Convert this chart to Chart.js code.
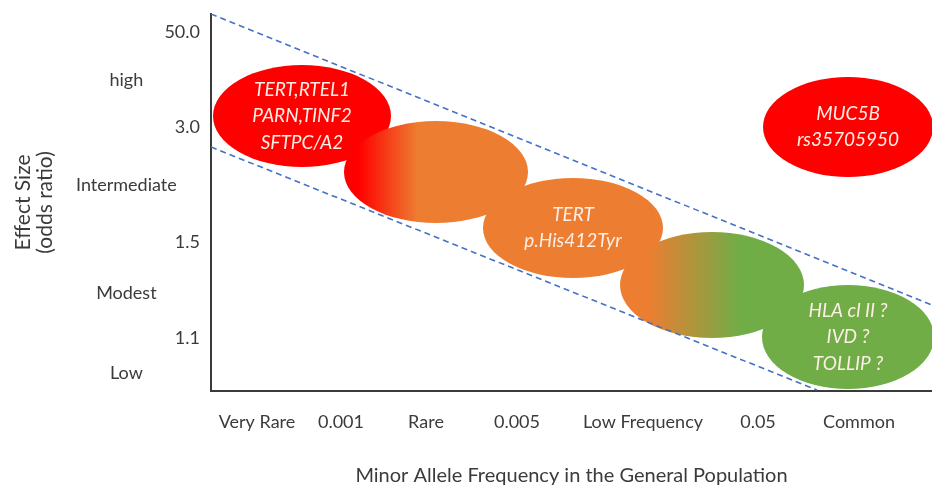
<!DOCTYPE html>
<html>
<head>
<meta charset="utf-8">
<script src="https://cdn.jsdelivr.net/npm/chart.js@4"></script>
<style>
html,body{margin:0;padding:0;background:#fff;}
#wrap{width:932px;height:488px;position:relative;}
</style>
</head>
<body>
<div id="wrap"><canvas id="c" width="932" height="488"></canvas></div>
<script>
// ---- data ----
const xTickPos = [46, 130, 215, 306, 432, 547, 648];
const xTickLabels = ['Very Rare', '0.001', 'Rare', '0.005', 'Low Frequency', '0.05', 'Common'];
const yNumPos = [359, 264, 149, 53];
const yNumLabels = ['50.0', '3.0', '1.5', '1.1'];
const yCatPos = [311, 206, 98, 18];
const yCatLabels = ['high', 'Intermediate', 'Modest', 'Low'];

const groupX = [91, 225, 362, 501, 637, 637];
const groupY = [275, 219, 163, 106, 54, 264];
const groupSpreadX = [89, 92, 90, 92, 86, 85];
const groupSpreadY = [51, 51, 50, 53, 52, 50];
const groupLabels = [
  ['TERT,RTEL1', 'PARN,TINF2', 'SFTPC/A2'],
  [],
  ['TERT', 'p.His412Tyr'],
  [],
  ['HLA cl II ?', 'IVD ?', 'TOLLIP ?'],
  ['MUC5B', 'rs35705950']
];
const upperBound = [{x: 0, y: 377}, {x: 721, y: 86}];
const lowerBound = [{x: 0, y: 244}, {x: 606, y: 1}];

// ---- styles ----
const RED = '#ff0000', ORANGE = '#ed7d31', GREEN = '#70ad47';
const groupFills = [
  [[0, RED], [1, RED]],
  [[0, RED], [0.08, RED], [0.4, ORANGE], [1, ORANGE]],
  [[0, ORANGE], [1, ORANGE]],
  [[0, ORANGE], [0.15, ORANGE], [0.65, GREEN], [1, GREEN]],
  [[0, GREEN], [1, GREEN]],
  [[0, RED], [1, RED]]
];
const TXT = '#3b3b3b';
const FONT = 'Lato';

const ellipsePlugin = {
  id: 'ellipses',
  beforeDatasetsDraw(chart) {
    const ctx = chart.ctx;
    const xs = chart.scales.x, ys = chart.scales.y;
    const meta = chart.getDatasetMeta(0);
    meta.data.forEach((pt, i) => {
      const cx = pt.x, cy = pt.y;
      const rx = Math.abs(xs.getPixelForValue(groupX[i] + groupSpreadX[i]) - cx);
      const ry = Math.abs(ys.getPixelForValue(groupY[i] + groupSpreadY[i]) - cy);
      const g = ctx.createLinearGradient(cx - rx, 0, cx + rx, 0);
      groupFills[i].forEach(s => g.addColorStop(s[0], s[1]));
      ctx.save();
      ctx.beginPath();
      ctx.ellipse(cx, cy, rx, ry, 0, 0, Math.PI * 2);
      ctx.fillStyle = g;
      ctx.fill();
      ctx.restore();
    });
    meta.data.forEach((pt, i) => {
      const lines = groupLabels[i];
      if (!lines.length) return;
      ctx.save();
      ctx.font = 'italic 19px ' + FONT;
      ctx.fillStyle = '#fdeee6';
      ctx.textAlign = 'center';
      ctx.textBaseline = 'middle';
      const lh = 26.5;
      const y0 = pt.y - lh * (lines.length - 1) / 2;
      lines.forEach((t, k) => ctx.fillText(t, pt.x, y0 + k * lh));
      ctx.restore();
    });
  }
};

const noPad = s => { s.paddingTop = 0; s.paddingBottom = 0; s.paddingLeft = 0; s.paddingRight = 0; };

new Chart(document.getElementById('c'), {
  type: 'scatter',
  data: {
    datasets: [
      {
        label: 'groups',
        data: groupX.map((v, i) => ({x: v, y: groupY[i]})),
        pointRadius: 0,
        pointHoverRadius: 0
      },
      {
        type: 'line',
        label: 'upper',
        data: upperBound,
        borderColor: '#4472c4',
        borderWidth: 1.6,
        borderDash: [6, 4],
        pointRadius: 0,
        fill: false
      },
      {
        type: 'line',
        label: 'lower',
        data: lowerBound,
        borderColor: '#4472c4',
        borderWidth: 1.6,
        borderDash: [6, 4],
        pointRadius: 0,
        fill: false
      }
    ]
  },
  options: {
    responsive: false,
    animation: false,
    devicePixelRatio: 1,
    layout: {padding: {top: 14, right: 0, bottom: 0, left: 0}},
    plugins: {legend: {display: false}, tooltip: {enabled: false}},
    scales: {
      x: {
        type: 'linear', min: 0, max: 721, position: 'bottom',
        grid: {display: false, drawTicks: false},
        border: {display: true, color: '#3a3a3a', width: 2},
        afterBuildTicks: s => { s.ticks = xTickPos.map(v => ({value: v})); },
        afterFit: s => { s.height = 97; noPad(s); },
        ticks: {
          autoSkip: false, maxRotation: 0, padding: 20, color: TXT,
          font: {family: FONT, size: 18},
          callback: (v, i) => xTickLabels[i]
        },
        title: {
          display: true, text: 'Minor Allele Frequency in the General Population',
          color: TXT, font: {family: FONT, size: 20}, padding: {top: 0, bottom: 0}
        }
      },
      y: {
        type: 'linear', min: 0, max: 377, position: 'left', weight: 0,
        grid: {display: false, drawTicks: false},
        border: {display: true, color: '#3a3a3a', width: 2},
        afterBuildTicks: s => { s.ticks = yNumPos.map(v => ({value: v})); },
        afterFit: s => { s.width = 52; noPad(s); },
        ticks: {
          autoSkip: false, padding: 11, color: TXT,
          font: {family: FONT, size: 18},
          callback: (v, i) => yNumLabels[i]
        }
      },
      y2: {
        type: 'linear', min: 0, max: 377, position: 'left', weight: 1,
        grid: {display: false, drawTicks: false},
        border: {display: false},
        afterBuildTicks: s => { s.ticks = yCatPos.map(v => ({value: v})); },
        afterFit: s => { s.width = 159; noPad(s); },
        ticks: {
          autoSkip: false, mirror: true, padding: -83, crossAlign: 'center', color: TXT,
          font: {family: FONT, size: 18},
          callback: (v, i) => yCatLabels[i]
        },
        title: {
          display: true, text: ['Effect Size', '(odds ratio)'],
          color: TXT, font: {family: FONT, size: 21, lineHeight: 1.05}, padding: {top: 12, bottom: 0}
        }
      }
    }
  },
  plugins: [ellipsePlugin]
});
</script>
</body>
</html>
